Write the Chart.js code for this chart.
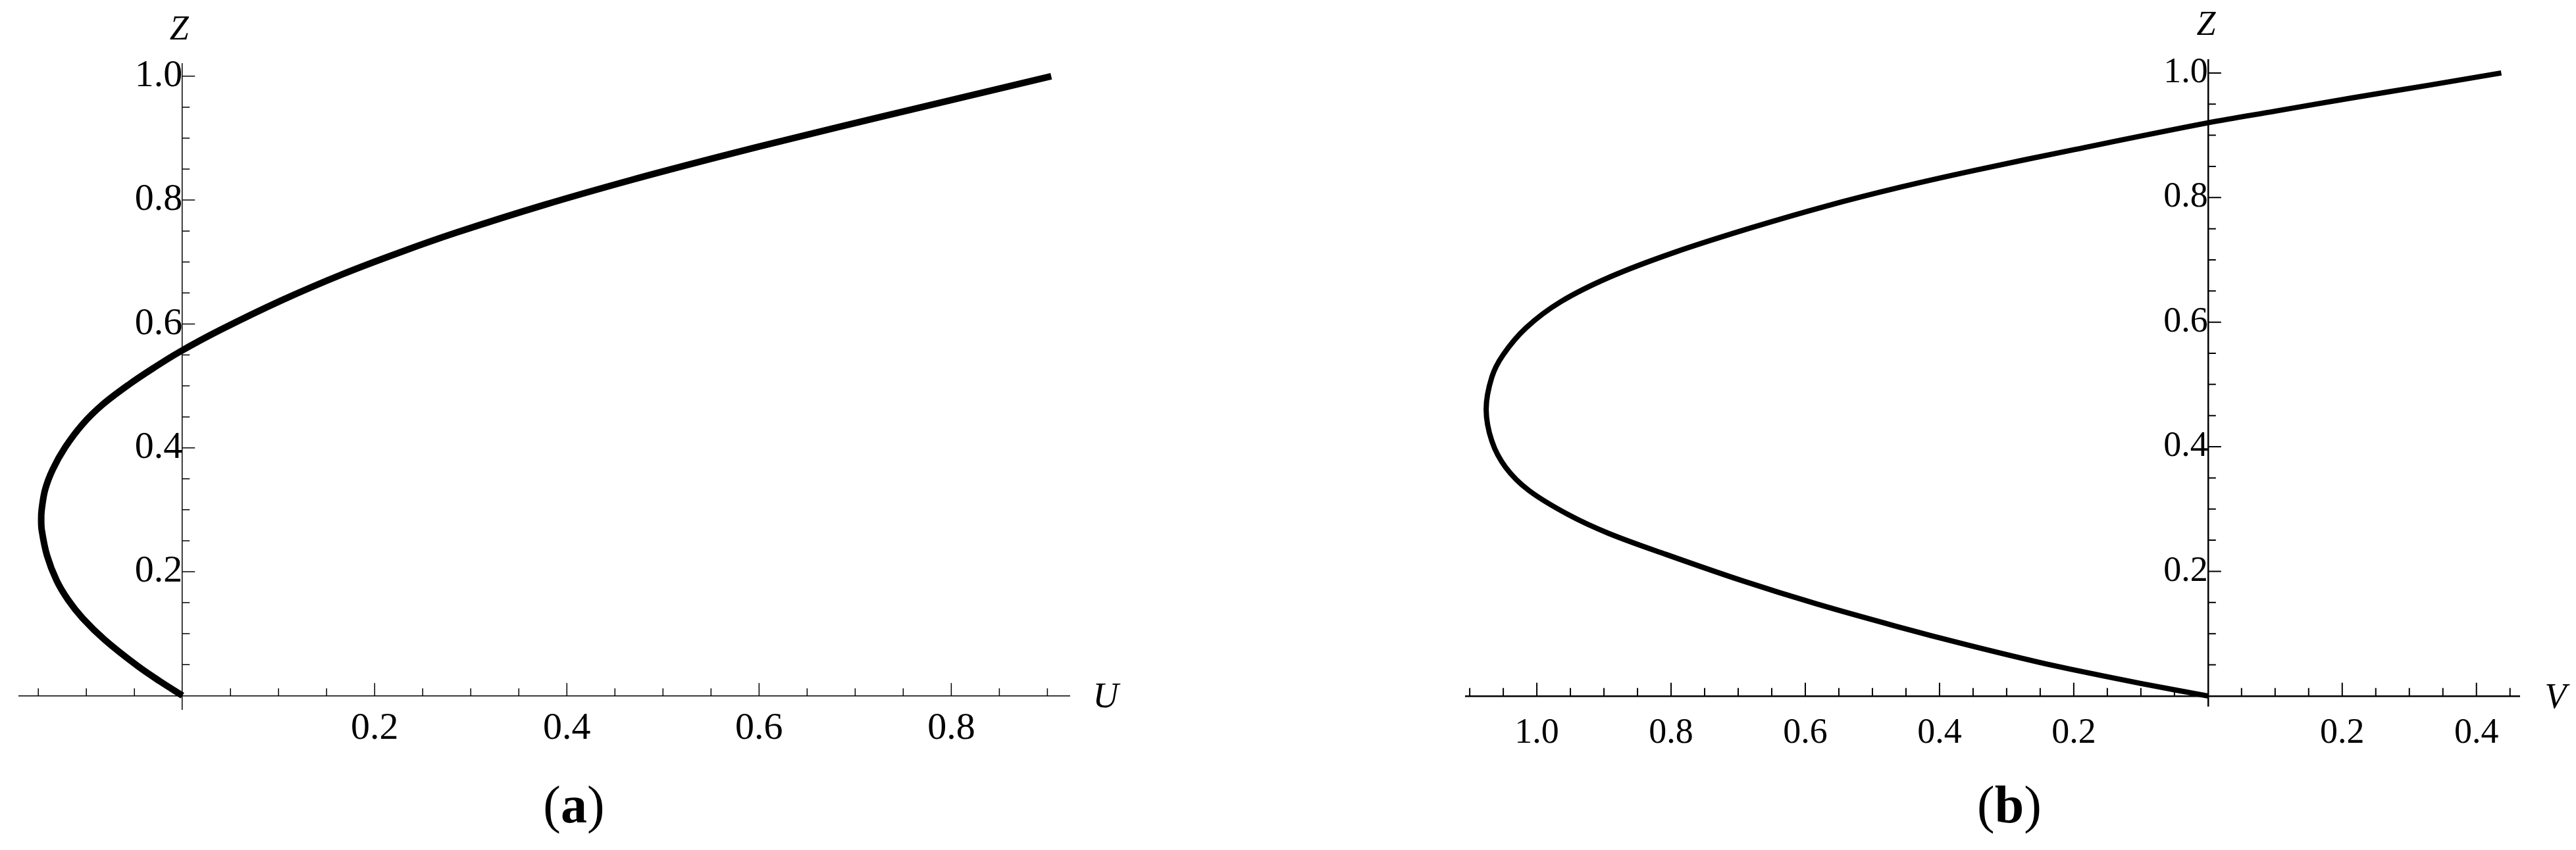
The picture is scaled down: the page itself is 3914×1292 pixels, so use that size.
<!DOCTYPE html>
<html>
<head>
<meta charset="utf-8">
<script src="https://cdn.jsdelivr.net/npm/chart.js@4.4.1/dist/chart.umd.min.js"></script>
<style>
  html, body { margin: 0; padding: 0; background: #fff; }
  #wrap { position: relative; width: 3914px; height: 1292px; }
  canvas { position: absolute; top: 0; }
  #graph-a { left: 0; }
  #graph-b { left: 1957px; }
</style>
</head>
<body>
<div id="wrap">
  <canvas id="graph-a" width="1957" height="1292"></canvas>
  <canvas id="graph-b" width="1957" height="1292"></canvas>
</div>
<script>
// tick labels
const uTicks = [0.2, 0.4, 0.6, 0.8];
const vTicks = [-1.0, -0.8, -0.6, -0.4, -0.2, 0.2, 0.4];
const zTicks = [0.2, 0.4, 0.6, 0.8, 1.0];

// panel (a): U against Z
const curveAU = [0, -0.0234, -0.0469, -0.0809, -0.1039, -0.1192, -0.131, -0.1409, -0.1464, -0.147, -0.1465,
  -0.143, -0.135, -0.122, -0.104, -0.083, -0.055, -0.030, -0.004, 0.039, 0.103, 0.166, 0.227,
  0.286, 0.376, 0.466, 0.556, 0.638, 0.726, 0.815, 0.904];
const curveAZ = [0, 0.023, 0.048, 0.090, 0.125, 0.155, 0.186, 0.226, 0.267, 0.285, 0.300,
  0.332, 0.365, 0.401, 0.438, 0.470, 0.503, 0.529, 0.554, 0.590, 0.638, 0.680, 0.716,
  0.748, 0.792, 0.832, 0.869, 0.901, 0.934, 0.967, 1.0];

// panel (b): V against Z
const curveBV = [0, -0.100, -0.205, -0.252, -0.359, -0.465, -0.584, -0.694, -0.807, -0.893, -0.953,
  -1.012, -1.0465, -1.067, -1.0755, -1.067, -1.050, -1.016, -0.964, -0.890, -0.795, -0.682,
  -0.570, -0.457, -0.346, -0.199, 0, 0.102, 0.215, 0.327, 0.437];
const curveBZ = [0, 0.020, 0.043, 0.054, 0.082, 0.112, 0.148, 0.185, 0.227, 0.261, 0.291,
  0.330, 0.367, 0.409, 0.460, 0.512, 0.548, 0.591, 0.633, 0.673, 0.712, 0.751,
  0.786, 0.817, 0.844, 0.877, 0.920, 0.939, 0.960, 0.980, 1.0];

const serif = "'Liberation Serif', 'Times New Roman', serif";

// mathematica style ticks (pointing inwards), axis names and the panel caption
function decor(opt) {
  return {
    id: "decor",
    afterDraw(chart) {
      const { ctx, chartArea } = chart;
      const xs = chart.scales.x;
      const ys = chart.scales.y;
      const x0 = xs.getPixelForValue(0);
      const y0 = ys.getPixelForValue(0);
      ctx.save();
      ctx.strokeStyle = "#000";
      ctx.lineWidth = opt.tickWidth;
      ctx.beginPath();
      for (let i = opt.xFrom; i <= opt.xTo; i++) {
        if (i === 0) continue;
        const px = xs.getPixelForValue(i * 0.05);
        const len = i % 4 === 0 ? opt.major : opt.minor;
        ctx.moveTo(px, y0);
        ctx.lineTo(px, y0 - len);
      }
      for (let j = 1; j <= 20; j++) {
        const py = ys.getPixelForValue(j * 0.05);
        const len = j % 4 === 0 ? opt.major : opt.minor;
        ctx.moveTo(x0, py);
        ctx.lineTo(x0 + len, py);
      }
      ctx.stroke();

      ctx.fillStyle = "#000";
      ctx.textAlign = "center";
      ctx.textBaseline = "alphabetic";
      ctx.font = "italic 52px " + serif;
      ctx.fillText("Z", x0 - opt.zShift, opt.zBase);
      ctx.font = "italic 54px " + serif;
      ctx.fillText(opt.xName, chartArea.right + 55, y0 + 18);

      // caption: "(" + bold letter + ")"
      const parts = [["(", ""], [opt.caption, "bold "], [")", ""]];
      let total = 0;
      parts.forEach((p) => {
        ctx.font = p[1] + "80px " + serif;
        total += ctx.measureText(p[0]).width;
      });
      let cx = opt.capX - total / 2;
      ctx.textAlign = "left";
      parts.forEach((p) => {
        ctx.font = p[1] + "80px " + serif;
        ctx.fillText(p[0], cx, 1250);
        cx += ctx.measureText(p[0]).width;
      });
      ctx.restore();
    },
  };
}

function points(xs, ys) {
  return xs.map((x, i) => ({ x: x, y: ys[i] }));
}

const atx = document.getElementById("graph-a").getContext("2d");

const panelA = new Chart(atx, {
  type: "scatter",
  data: {
    datasets: [
      {
        label: "U",
        data: points(curveAU, curveAZ),
        showLine: true,
        borderColor: "#000",
        borderWidth: 10,
        borderCapStyle: "butt",
        pointRadius: 0,
        tension: 0.35,
      },
    ],
  },
  options: {
    responsive: false,
    animation: false,
    devicePixelRatio: 1,
    events: [],
    layout: { padding: { left: 29, right: 332, top: 97, bottom: 214 } },
    plugins: { legend: { display: false }, tooltip: { enabled: false } },
    scales: {
      x: {
        type: "linear",
        min: -0.17,
        max: 0.923,
        bounds: "data",
        position: { y: 0 },
        grid: { display: false, drawTicks: false },
        border: { display: true, color: "#000", width: 1.5 },
        afterBuildTicks: (scale) => {
          scale.ticks = uTicks.map((v) => ({ value: v }));
        },
        ticks: {
          autoSkip: false,
          maxRotation: 0,
          padding: 21,
          color: "#000",
          font: { family: serif, size: 58, lineHeight: 1 },
          callback: (v) => v.toFixed(1),
        },
      },
      y: {
        type: "linear",
        min: -0.022,
        max: 1.02,
        bounds: "data",
        position: { x: 0 },
        grid: { display: false, drawTicks: false },
        border: { display: true, color: "#000", width: 1.5 },
        afterBuildTicks: (scale) => {
          scale.ticks = zTicks.map((v) => ({ value: v }));
        },
        ticks: {
          autoSkip: false,
          padding: 10,
          color: "#000",
          font: { family: serif, size: 58, lineHeight: 1 },
          callback: (v) => v.toFixed(1),
        },
      },
    },
  },
  plugins: [
    decor({ tickWidth: 1.5, major: 19, minor: 11, xFrom: -3, xTo: 18, zShift: 5, zBase: 60, xName: "U", caption: "a", capX: 872 }),
  ],
});

const btx = document.getElementById("graph-b").getContext("2d");

const panelB = new Chart(btx, {
  type: "scatter",
  data: {
    datasets: [
      {
        label: "V",
        data: points(curveBV, curveBZ),
        showLine: true,
        borderColor: "#000",
        borderWidth: 8,
        borderCapStyle: "butt",
        pointRadius: 0,
        tension: 0.35,
      },
    ],
  },
  options: {
    responsive: false,
    animation: false,
    devicePixelRatio: 1,
    events: [],
    layout: { padding: { left: 270, right: 86, top: 91, bottom: 219 } },
    plugins: { legend: { display: false }, tooltip: { enabled: false } },
    scales: {
      x: {
        type: "linear",
        min: -1.106,
        max: 0.464,
        bounds: "data",
        position: { y: 0 },
        grid: { display: false, drawTicks: false },
        border: { display: true, color: "#000", width: 2.5 },
        afterBuildTicks: (scale) => {
          scale.ticks = vTicks.map((v) => ({ value: v }));
        },
        ticks: {
          autoSkip: false,
          maxRotation: 0,
          padding: 30,
          color: "#000",
          font: { family: serif, size: 54, lineHeight: 1 },
          callback: (v) => Math.abs(v).toFixed(1),
        },
      },
      y: {
        type: "linear",
        min: -0.016,
        max: 1.021,
        bounds: "data",
        position: { x: 0 },
        grid: { display: false, drawTicks: false },
        border: { display: true, color: "#000", width: 2.5 },
        afterBuildTicks: (scale) => {
          scale.ticks = zTicks.map((v) => ({ value: v }));
        },
        ticks: {
          autoSkip: false,
          padding: 14,
          color: "#000",
          font: { family: serif, size: 54, lineHeight: 1 },
          callback: (v) => v.toFixed(1),
        },
      },
    },
  },
  plugins: [
    decor({ tickWidth: 2, major: 20, minor: 12, xFrom: -22, xTo: 9, zShift: 3, zBase: 53, xName: "V", caption: "b", capX: 1096 }),
  ],
});
</script>
</body>
</html>
